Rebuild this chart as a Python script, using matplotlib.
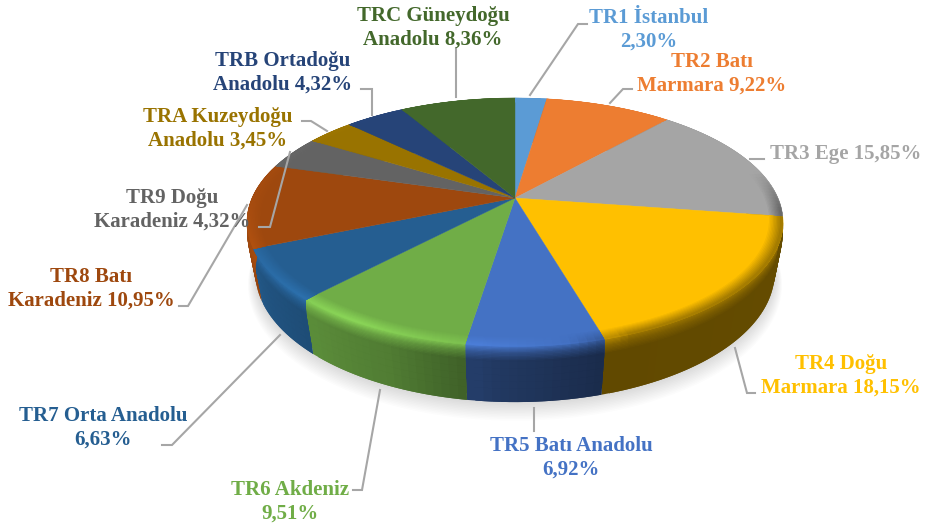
import numpy as np
from matplotlib import pyplot as plt
from matplotlib.collections import PolyCollection
from matplotlib.colors import to_rgb

regions = ['TR1 İstanbul', 'TR2 Batı\nMarmara', 'TR3 Ege', 'TR4 Doğu\nMarmara',
           'TR5 Batı Anadolu', 'TR6 Akdeniz', 'TR7 Orta Anadolu', 'TR8 Batı\nKaradeniz',
           'TR9 Doğu\nKaradeniz', 'TRA Kuzeydoğu\nAnadolu', 'TRB Ortadoğu\nAnadolu',
           'TRC Güneydoğu\nAnadolu']
shares = [2.30, 9.22, 15.85, 18.15, 6.92, 9.51, 6.63, 10.95, 4.32, 3.45, 4.32, 8.36]
share_txt = ['\n2,30%', ' 9,22%', ' 15,85%', ' 18,15%', '\n6,92%', '\n9,51%', '\n6,63%',
             ' 10,95%', ' 4,32%', ' 3,45%', ' 4,32%', ' 8,36%']
colors = ['#5B9BD5', '#ED7D31', '#A5A5A5', '#FFC000', '#4472C4', '#70AD47',
          '#255E91', '#9E480E', '#636363', '#997300', '#264478', '#43682B']

# label centres, in pixels
label_x = [649, 712, 846, 841, 571, 290, 103, 91, 172, 218, 283, 433]
label_y = [30, 74, 154, 376, 458, 502, 428, 289, 210, 129, 73, 28]

# leader lines, in pixels
leaders = [[(530, 95), (578, 24), (587, 24)],
           [(610, 103), (623, 89), (632, 89)],
           [(750, 159), (764, 159)],
           [(735, 348), (747, 393), (755, 393)],
           [(534, 408), (534, 431)],
           [(380, 390), (362, 490), (353, 490)],
           [(280, 335), (172, 445), (162, 445)],
           [(247, 205), (188, 306), (179, 306)],
           [(290, 152), (270, 227), (259, 227)],
           [(327, 131), (311, 121), (302, 121)],
           [(372, 115), (372, 89), (361, 89)],
           [(456, 97), (456, 48)]]

# perspective of the pie disc
cx, cy = 515, 198
a, b, k = 263, 119.4, 0.1935
depth = 50
bottom_r = 0.97

# side brightness and rim tint against the angle, clockwise from the top
side_ang = [0, 90, 165, 185, 205, 225, 240, 270, 360]
side_val = [0.6, 0.4, 0.38, 0.5, 0.72, 0.82, 0.88, 1.08, 1.0]
rim_ang = [0, 78, 97, 160, 172, 190, 212, 240, 272, 360]
rim_val = [1.0, 1.0, 0.6, 0.62, 1.0, 1.12, 1.25, 1.15, 1.05, 1.0]


def proj(t, r, z=0.0):
    x = r * np.sin(t)
    y = r * np.cos(t)
    w = 1 + k * y
    return cx + a * x / w, cy + (z - b * y) / w


def shade(c, f):
    return tuple(min(1.0, v * f) for v in c)


def mix(c1, c2, f):
    return tuple(u + (v - u) * f for u, v in zip(c1, c2))


def strips(ax, t0, t1, col, profile, zorder, nsub=6):
    # profile is a list of (r, z, colour function of the angle)
    levels = []
    for (r0, z0, f0), (r1, z1, f1) in zip(profile[:-1], profile[1:]):
        for s in np.linspace(0, 1, nsub, endpoint=False):
            levels.append((r0 + (r1 - r0) * s, z0 + (z1 - z0) * s, f0, f1, s))
    r1, z1, f1 = profile[-1]
    levels.append((r1, z1, f1, f1, 0.0))

    ts = np.linspace(t0, t1, max(2, int(np.degrees(t1 - t0) / 1.5) + 1))
    polys, cols = [], []
    for j in range(len(levels) - 1):
        # overlap the step before so no seams show
        r0, z0 = levels[max(j - 1, 0)][:2]
        r1, z1 = levels[j + 1][:2]
        _, _, f0, f1, s = levels[j]
        for i in range(len(ts) - 1):
            ta, tb = ts[max(i - 1, 0)], ts[i + 1]
            polys.append([proj(ta, r0, z0), proj(tb, r0, z0), proj(tb, r1, z1), proj(ta, r1, z1)])
            tm = (ts[i] + ts[i + 1]) / 2
            cols.append(mix(f0(col, tm), f1(col, tm), s))
    ax.add_collection(PolyCollection(polys, facecolors=cols, edgecolors='none',
                                     linewidths=0, zorder=zorder))


def side_col(c, t):
    return shade(c, np.interp(np.degrees(t), side_ang, side_val))


def rim_col(c, t):
    return shade(c, np.interp(np.degrees(t), rim_ang, rim_val))


def face_col(c, t):
    return c


def side_top(c, t):
    return mix(rim_col(c, t), side_col(c, t), 0.6)


fig = plt.figure(figsize=(9.31, 5.25), dpi=100)
ax = fig.add_axes([0, 0, 1, 1])
ax.set_xlim(0, 931)
ax.set_ylim(525, 0)
ax.axis('off')

# soft shadow under the disc
tt = np.linspace(0, 2 * np.pi, 361)
for i in range(1, 13):
    sx, sy = proj(tt, bottom_r + 0.0022 * i, depth + 0.9 * i)
    ax.fill(sx, sy, color='k', alpha=0.012, lw=0, zorder=1)

edges = np.radians(np.cumsum([0] + shares) / sum(shares) * 360)

side_profile = [(1.0, 0.0, rim_col), (1.0, 6, side_top), (0.998, 13, side_col),
                (bottom_r, depth, side_col)]
bevel_profile = [(0.95, 0, face_col), (1.0, 0.5, rim_col)]

for i, col in enumerate(colors):
    strips(ax, edges[i], edges[i + 1], to_rgb(col), side_profile, 2)

for i, col in enumerate(colors):
    t = np.linspace(edges[i], edges[i + 1], 80)
    x, y = proj(t, 1.0)
    ax.fill(np.r_[cx, x], np.r_[cy, y], color=col, lw=0.3, zorder=3)

for i, col in enumerate(colors):
    strips(ax, edges[i], edges[i + 1], to_rgb(col), bevel_profile, 4, nsub=10)

for pts in leaders:
    xs, ys = zip(*pts)
    ax.plot(xs, ys, color='#A6A6A6', lw=1.5, zorder=5, solid_joinstyle='miter')

for i, name in enumerate(regions):
    ax.text(label_x[i], label_y[i], name + share_txt[i], color=colors[i], ha='center',
            va='center', family=['Liberation Serif', 'DejaVu Serif'], weight='bold',
            fontsize=15, linespacing=1.22, zorder=6)

fig.savefig('out.png', dpi=100)
